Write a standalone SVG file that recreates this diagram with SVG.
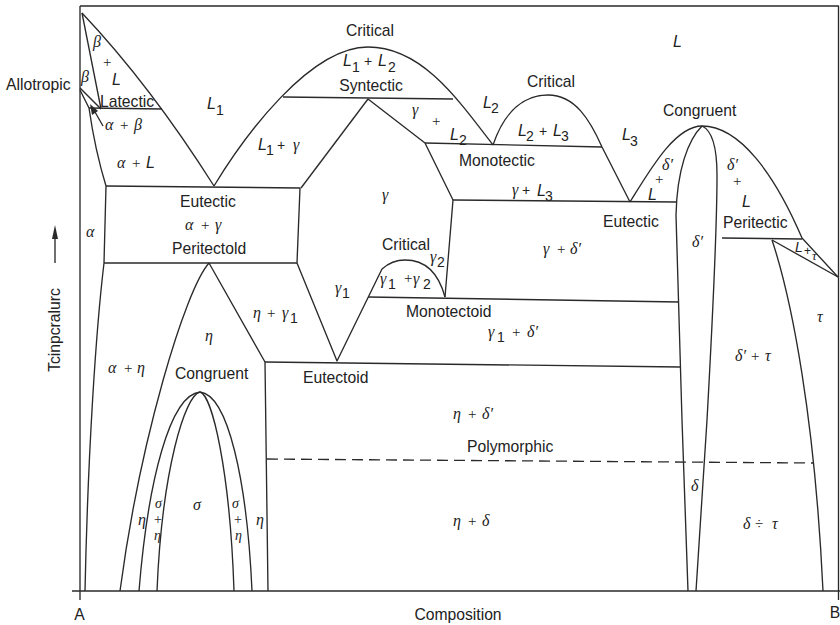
<svg xmlns="http://www.w3.org/2000/svg" width="840" height="625" viewBox="0 0 840 625">
<defs>
<style>
.ln{fill:none;stroke:#2a2a2a;stroke-width:1.35;stroke-linejoin:round}
.ds{fill:none;stroke:#2a2a2a;stroke-width:1.35;stroke-dasharray:11,6}
text{fill:#222}
.s{font-family:"Liberation Sans",Arial,sans-serif;font-size:15.7px}
.m{text-anchor:middle}
.g{font-family:"Liberation Serif","Times New Roman",serif;font-style:italic;font-size:16px}
.p{font-family:"Liberation Serif","Times New Roman",serif;font-size:15px}
.l{font-family:"Liberation Sans",Arial,sans-serif;font-style:italic;font-size:16px}
.sb{font-family:"Liberation Sans",Arial,sans-serif;font-size:14px}
.k{font-size:14px}
</style>
</defs>
<rect width="840" height="625" fill="#fff"/>
<g id="frame" class="ln">
<path d="M80,6 H838.5 V600"/>
<path d="M80,6 V600"/>
<path d="M72,591 H840"/>
</g>
<g id="boundaries" class="ln">
<path d="M82,13 Q150,85 214,186"/>
<path d="M82,13 L101,109"/>
<path d="M80,88 L101,109"/>
<path d="M80,90 L89,108 Q95,150 106,186 L104,263 C96,330 88,450 85,591"/>
<path d="M89,108 L162,109"/>
<path d="M214,186 C245,135 310,47 368,47 C420,47 455,95 493,145"/>
<path d="M283,97 L453,99"/>
<path d="M106,186 L300,188 L297,263"/>
<path d="M104,263 L297,263"/>
<path d="M368,99 L301,188"/>
<path d="M368,99 L425,143 L453,200 L445,297"/>
<path d="M425,143 L602,147"/>
<path d="M493,145 C505,110 525,95 548,95 C575,95 590,120 602,147 L630,202"/>
<path d="M453,200 L676,202"/>
<path d="M630,202 C650,170 675,126 702,126 C740,126 775,175 802,238 L838,277"/>
<path d="M702,126 C688,140 677,170 676,215 L682,420 L688,591"/>
<path d="M702,126 C713,131 717,148 717,175 C717,215 712,330 707,420 L696,591"/>
<path d="M722,238 L802,239"/>
<path d="M772,240 L838,277"/>
<path d="M772,240 C792,300 815,420 823,591"/>
<path d="M297,263 L337,361 L382,269 Q392,260 405,260 Q435,260 445,297"/>
<path d="M368,297 L679,302"/>
<path d="M209,263 L265,362 L268,591"/>
<path d="M265,362 L680,367"/>
<path d="M209,263 C185,290 140,440 120,591"/>
<path d="M200,392 C170,395 148,480 139,591"/>
<path d="M200,392 C185,395 162,470 157,591"/>
<path d="M200,392 C212,395 230,470 234,591"/>
<path d="M200,392 C228,395 247,480 252,591"/>
<path class="ds" d="M267,459 L814,463"/>
<path d="M103,126 L95,112"/>
<polygon points="90,104 98,111 92,115" fill="#2a2a2a" stroke="none"/>
<path d="M55,263 L55,236"/>
<polygon points="55,225 52,239 58,239" fill="#2a2a2a" stroke="none"/>
</g>
<g id="labels">
<text class="s" x="6" y="90">Allotropic</text>
<text class="g" x="93" y="47">β</text>
<text class="p" x="103" y="67">+</text>
<text class="l" x="112" y="85">L</text>
<text class="g" x="81" y="82">β</text>
<text class="s" x="100" y="107">Latectic</text>
<text class="g" x="105" y="130">α</text><text class="p" x="120" y="130">+</text><text class="g" x="134" y="130">β</text>
<text class="g" x="117" y="168">α</text><text class="p" x="132" y="168">+</text><text class="l" x="146" y="168">L</text>
<text class="l" x="207" y="109">L</text><text class="sb" x="216" y="115">1</text>
<text class="s m" x="370" y="36">Critical</text>
<text class="l" x="343" y="66">L</text><text class="sb" x="352" y="72">1</text><text class="sb" x="364" y="66">+</text><text class="l" x="378" y="66">L</text><text class="sb" x="388" y="72">2</text>
<text class="s m" x="371" y="91">Syntectic</text>
<text class="l" x="258" y="150">L</text><text class="sb" x="266" y="155">1</text><text class="sb" x="277" y="150">+</text><text class="g" x="293" y="150">γ</text>
<text class="g" x="412" y="115">γ</text><text class="p" x="432" y="126">+</text><text class="l" x="450" y="140">L</text><text class="sb" x="459" y="145">2</text>
<text class="l" x="483" y="108">L</text><text class="sb" x="491" y="113">2</text>
<text class="s m" x="551" y="87">Critical</text>
<text class="l" x="518" y="136">L</text><text class="sb" x="526" y="141">2</text><text class="sb" x="539" y="136">+</text><text class="l" x="553" y="136">L</text><text class="sb" x="561" y="141">3</text>
<text class="l" x="622" y="140">L</text><text class="sb" x="630" y="146">3</text>
<text class="s" x="459" y="166">Monotectic</text>
<text class="g" x="512" y="195">γ</text><text class="sb" x="522" y="195">+</text><text class="l" x="537" y="196">L</text><text class="sb" x="545" y="201">3</text>
<text class="l" x="673" y="47">L</text>
<text class="s" x="663" y="116">Congruent</text>
<text class="g" x="662" y="170">δ′</text><text class="p" x="655" y="184">+</text><text class="l" x="648" y="200">L</text>
<text class="g" x="727" y="170">δ′</text><text class="p" x="733" y="186">+</text><text class="l" x="742" y="207">L</text>
<text class="s" x="603" y="227">Eutectic</text>
<text class="g" x="543" y="254">γ</text><text class="p" x="557" y="254">+</text><text class="g" x="570" y="254">δ′</text>
<text class="s" x="723" y="228">Peritectic</text>
<text class="l" x="795" y="252" style="font-size:14px">L</text><text class="sb" x="804" y="255" style="font-size:12px">+</text><text class="g" x="812" y="260" style="font-size:13px">τ</text>
<text class="g" x="692" y="247">δ′</text>
<text class="g" x="817" y="322">τ</text>
<text class="g" x="735" y="361">δ′</text><text class="p" x="751" y="361">+</text><text class="g" x="765" y="361">τ</text>
<text class="g" x="86" y="237">α</text>
<text class="s" x="180" y="207">Eutectic</text>
<text class="g" x="185" y="230">α</text><text class="p" x="201" y="230">+</text><text class="g" x="215" y="230">γ</text>
<text class="s" x="172" y="254">Peritectold</text>
<text class="g" x="382" y="200">γ</text>
<text class="s" x="382" y="250">Critical</text>
<text class="g" x="430" y="262">γ</text><text class="sb" x="437" y="267">2</text>
<text class="g" x="335" y="293">γ</text><text class="sb" x="342" y="298">1</text>
<text class="g" x="380" y="284">γ</text><text class="sb" x="388" y="289">1</text><text class="p" x="404" y="283">+</text><text class="g" x="413" y="284">γ</text><text class="sb" x="423" y="289">2</text>
<text class="g" x="253" y="318">η</text><text class="p" x="267" y="318">+</text><text class="g" x="282" y="318">γ</text><text class="sb" x="290" y="323">1</text>
<text class="s" x="406" y="317">Monotectoid</text>
<text class="g" x="488" y="337">γ</text><text class="sb" x="497" y="342">1</text><text class="p" x="512" y="337">+</text><text class="g" x="527" y="337">δ′</text>
<text class="g" x="205" y="341">η</text>
<text class="g" x="108" y="373">α</text><text class="p" x="124" y="373">+</text><text class="g" x="137" y="373">η</text>
<text class="s" x="175" y="379">Congruent</text>
<text class="s" x="303" y="383">Eutectoid</text>
<text class="g" x="453" y="419">η</text><text class="p" x="468" y="419">+</text><text class="g" x="482" y="419">δ′</text>
<text class="s" x="467" y="452">Polymorphic</text>
<text class="g" x="453" y="526">η</text><text class="p" x="468" y="526">+</text><text class="g" x="482" y="526">δ</text>
<text class="g" x="691" y="491">δ</text>
<text class="g" x="743" y="529">δ</text><text class="p" x="755" y="529">÷</text><text class="g" x="772" y="529">τ</text>
<text class="g" x="138" y="525">η</text>
<text class="g k" x="155" y="508">σ</text><text class="p k" x="154" y="524">+</text><text class="g k" x="154" y="540">η</text>
<text class="g" x="193" y="510">σ</text>
<text class="g k" x="232" y="508">σ</text><text class="p k" x="234" y="524">+</text><text class="g k" x="235" y="540">η</text>
<text class="g" x="256" y="525">η</text>
<text class="s m" x="79.5" y="620">A</text>
<text class="s m" x="835" y="618">B</text>
<text class="s m" x="458" y="620">Composition</text>
<text class="s m" transform="translate(60,330) rotate(-90)">Tcinpcralurc</text>
</g>
</svg>
